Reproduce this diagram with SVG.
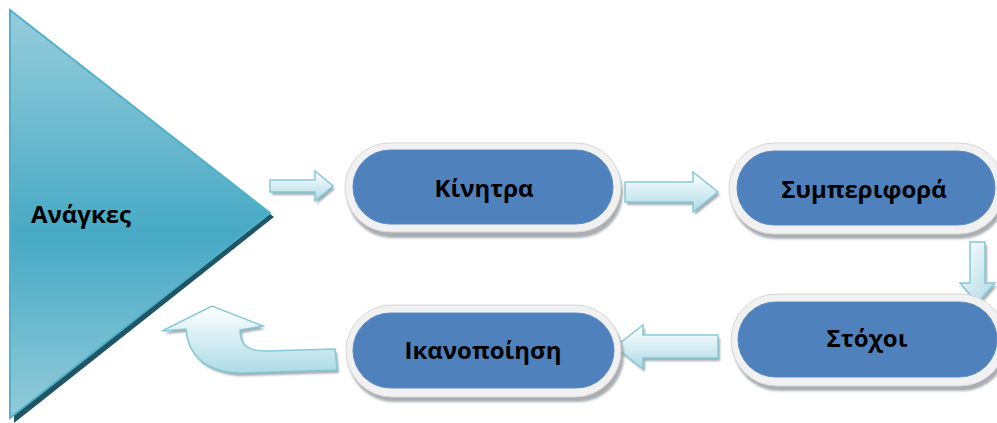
<svg xmlns="http://www.w3.org/2000/svg" width="997" height="423" viewBox="0 0 997 423">
  <defs>
    <linearGradient id="triFill" x1="0" y1="0" x2="0" y2="1">
      <stop offset="0" stop-color="#96cddc"/>
      <stop offset="0.55" stop-color="#47a9c4"/>
      <stop offset="1" stop-color="#92cbda"/>
    </linearGradient>
    <linearGradient id="arrowFill" x1="0" y1="0" x2="0" y2="1">
      <stop offset="0" stop-color="#ffffff"/>
      <stop offset="1" stop-color="#addbe6"/>
    </linearGradient>
    <linearGradient id="arrowFillV" x1="0" y1="0" x2="1" y2="1">
      <stop offset="0" stop-color="#ffffff"/>
      <stop offset="1" stop-color="#a9d8e4"/>
    </linearGradient>
    <filter id="soft" x="-10%" y="-20%" width="120%" height="140%">
      <feGaussianBlur stdDeviation="1"/>
    </filter>
  </defs>
  <style>
    .lbl { font-family: "Open Sans", "Noto Sans", "DejaVu Sans", sans-serif; font-weight: bold; font-size: 24px; fill: #000000; text-anchor: middle; }
    .ring { fill: #f1f1f1; stroke: #d6d6d6; stroke-width: 1; }
    .pillShadow { fill: #8e949a; opacity: 0.75; filter: url(#soft); }
    .pill { fill: #4f81bd; stroke: #5a8cc6; stroke-width: 1; }
    .arrow { fill: url(#arrowFill); stroke: #86c9d8; stroke-width: 1.5; stroke-linejoin: miter; }
    .arrowV { fill: url(#arrowFillV); stroke: #86c9d8; stroke-width: 1.5; }
    .arrowShadow { fill: #8a979c; opacity: 0.8; filter: url(#soft); }
  </style>

  <!-- Needs: large pointing triangle -->
  <g id="needs">
    <polygon points="14,16 274,217 14,423" fill="#1f5565"/>
    <polygon points="10,10 270,213 10,418" fill="url(#triFill)" stroke="#52b1ca" stroke-width="2"/>
    <text class="lbl" x="81" y="223">Ανάγκες</text>
  </g>

  <!-- Block arrows between the stages -->
  <g id="connectors">
    <path class="arrowShadow" d="M272 182 H317 V173 L335 189 L317 204 V195 H272 Z"/>
    <path class="arrow" d="M270 180 H315 V171 L333 186 L315 201 V192 H270 Z"/>

    <path class="arrowShadow" d="M627 185 H695 V175 L720 195 L695 215 V205 H627 Z"/>
    <path class="arrow" d="M625 182 H693 V172 L718 192 L693 212 V202 H625 Z"/>

    <path class="arrowShadow" d="M972 245 H987 V286 H997 L979.5 306 L962 286 H972 Z"/>
    <path class="arrowV" d="M970 242 H985 V283 H995 L977.5 303 L960 283 H970 Z"/>

    <path class="arrowShadow" d="M720 338 H645 V328 L617 350 L645 372 V361 H720 Z"/>
    <path class="arrow" d="M718 335 H643 V325 L615 347 L643 369 V358 H718 Z"/>

    <path class="arrowShadow" d="M337 352 L267 354 C250 354 242 348 242 333 L265 329 L214 309 L164 334 L188 332 C190 358 207 375 242 376 L339 373 Z"/>
    <path class="arrow" d="M335 349 L265 351 C248 351 240 345 240 330 L263 326 L212 306 L162 331 L186 329 C188 355 205 372 240 373 L337 370 Z"/>
  </g>

  <!-- Motives -->
  <g id="motives">
    <rect class="pillShadow" x="347" y="148" width="276" height="90" rx="45"/>
    <rect class="ring" x="345" y="143" width="276" height="89" rx="44.5"/>
    <rect class="pill" x="353" y="150" width="260" height="74" rx="37"/>
    <text class="lbl" x="484" y="197">Κίνητρα</text>
  </g>

  <!-- Behaviour -->
  <g id="behaviour">
    <rect class="pillShadow" x="731" y="148" width="275" height="91" rx="45"/>
    <rect class="ring" x="729" y="143" width="275" height="91" rx="45"/>
    <rect class="pill" x="737" y="151" width="258" height="74" rx="37"/>
    <text class="lbl" x="864" y="198">Συμπεριφορά</text>
  </g>

  <!-- Goals -->
  <g id="goals">
    <rect class="pillShadow" x="733" y="299" width="275" height="92" rx="46"/>
    <rect class="ring" x="731" y="294" width="275" height="92" rx="46"/>
    <rect class="pill" x="738" y="302" width="259" height="75" rx="37.5"/>
    <text class="lbl" x="867" y="347">Στόχοι</text>
  </g>

  <!-- Satisfaction -->
  <g id="satisfaction">
    <rect class="pillShadow" x="348" y="310" width="276" height="92" rx="46"/>
    <rect class="ring" x="346" y="305" width="275" height="92" rx="46"/>
    <rect class="pill" x="353" y="313" width="261" height="75" rx="37.5"/>
    <text class="lbl" x="483" y="359">Ικανοποίηση</text>
  </g>
</svg>
